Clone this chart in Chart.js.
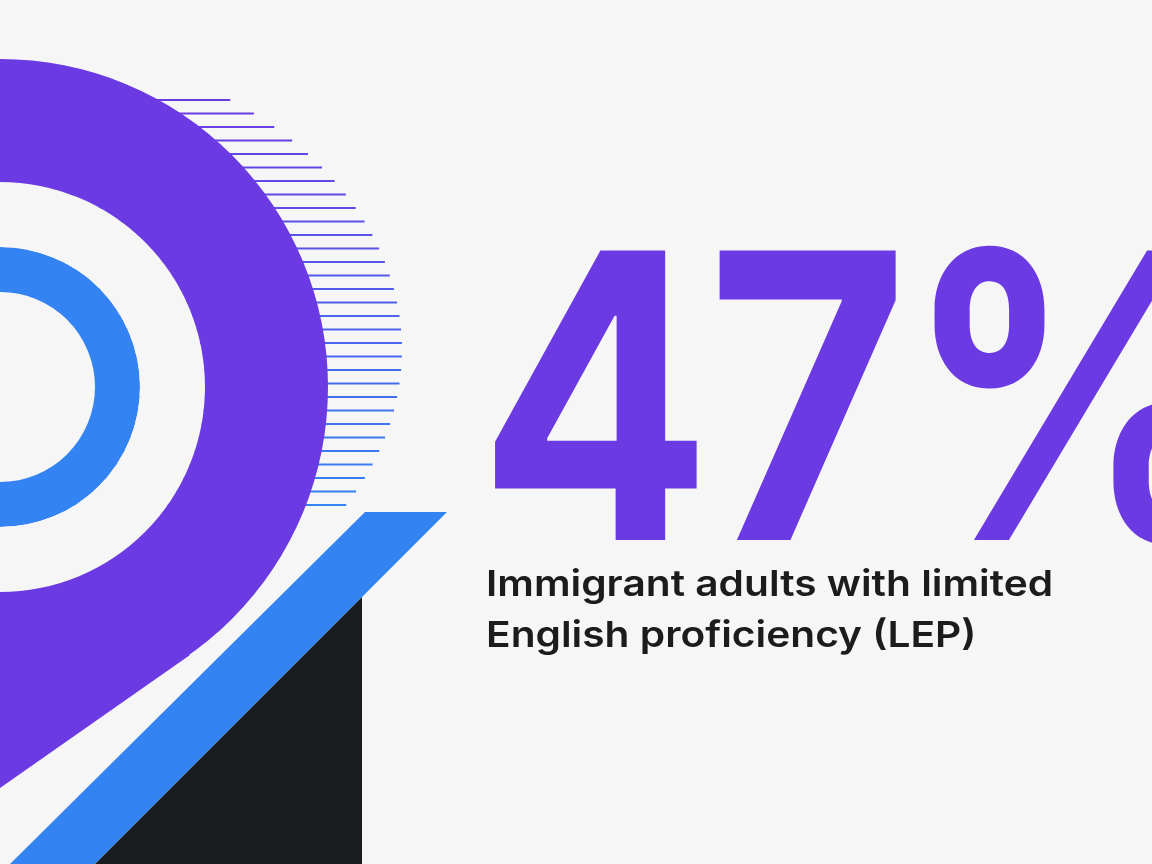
<!DOCTYPE html>
<html><head><meta charset="utf-8">
<script src="https://cdn.jsdelivr.net/npm/chart.js@4/dist/chart.umd.min.js"></script>
<style>
html,body{margin:0;padding:0;background:#f6f6f7;width:1152px;height:864px;overflow:hidden;font-family:Inter,"Open Sans",sans-serif}
#bg{position:absolute;left:0;top:0}
#ringWrap{position:absolute;left:-340px;top:47px;width:680px;height:680px}
#big{position:absolute;left:478px;top:196px;font-size:398px;font-weight:700;color:#6c3ae2;letter-spacing:-6px;line-height:1;transform:scaleX(0.87);transform-origin:0 0;white-space:nowrap}
#sub{position:absolute;left:486px;top:558px;font-size:36px;font-weight:600;color:#1c1c1e;line-height:51px;transform:scaleX(1.13);transform-origin:0 0;white-space:nowrap}
</style></head><body>
<canvas id="bg" width="1152" height="864"></canvas>
<div id="ringWrap"><canvas id="ring"></canvas></div>
<canvas id="fg" width="1152" height="864" style="position:absolute;left:0;top:0"></canvas>
<div id="big"></div>
<div id="sub"></div>
<script>
const statValues = [47];
const statUnit = '%';
const labelLines = ['Immigrant adults with limited', 'English proficiency (LEP)'];
const ringNames = ['Outer', 'Gap', 'Inner'];
const ringWeights = [123, 65, 45];

const PURPLE = '#6c3ae2', BLUE = '#3483f2', BG = '#f6f6f7';

const b = document.getElementById('bg').getContext('2d');
for (let y = 100; y <= 506; y += 13.5) {
  const dy = y - 350, t = Math.max(0, 1 - (dy / 305) ** 2);
  const x = 402 * Math.sqrt(t);
  const f = (y - 100) / 406;
  const r = Math.round(108 + (52 - 108) * f), g = Math.round(58 + (131 - 58) * f), bl = Math.round(226 + (242 - 226) * f);
  b.strokeStyle = `rgb(${r},${g},${bl})`; b.lineWidth = 2.2;
  b.beginPath(); b.moveTo(0, y); b.lineTo(x, y); b.stroke();
}
b.fillStyle = BG;
b.beginPath(); b.arc(0, 387, 100, 0, Math.PI * 2); b.fill();
b.fillStyle = PURPLE;
b.beginPath(); b.moveTo(0, 610); b.lineTo(190, 655); b.lineTo(0, 788); b.closePath(); b.fill();

new Chart(document.getElementById('ring'), {
  type: 'doughnut',
  data: {
    labels: ['ring'],
    datasets: ringNames.map((n, i) => ({
      label: n, data: [100], weight: ringWeights[i],
      backgroundColor: [PURPLE, BG, BLUE][i], borderWidth: 0, hoverOffset: 0
    }))
  },
  options: {
    responsive: true, maintainAspectRatio: false, animation: false,
    cutout: (95 / 328 * 100) + '%', radius: 328,
    layout: { padding: 0 },
    plugins: { legend: { display: false }, tooltip: { enabled: false } }
  }
});

const f = document.getElementById('fg').getContext('2d');
f.fillStyle = BLUE;
f.beginPath(); f.moveTo(365, 512); f.lineTo(447, 512); f.lineTo(95, 864); f.lineTo(10, 864); f.closePath(); f.fill();
f.fillStyle = '#1b1c1f';
f.beginPath(); f.moveTo(362, 597); f.lineTo(362, 864); f.lineTo(95, 864); f.closePath(); f.fill();

document.getElementById('big').textContent = statValues[0] + statUnit;
document.getElementById('sub').innerHTML = labelLines.join('<br>');
</script>
</body></html>
